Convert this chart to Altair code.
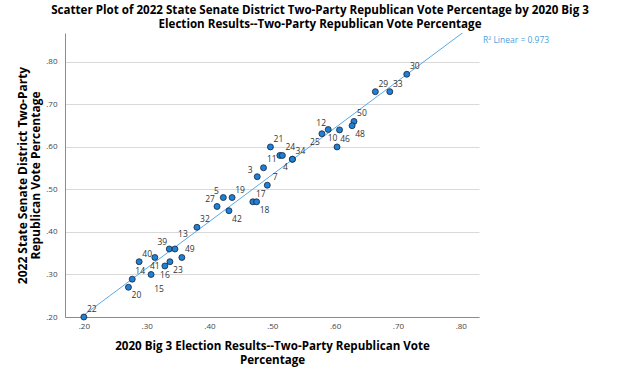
import altair as alt
import pandas as pd

# ---- data ----
district = ["22", "20", "14", "40", "41", "15", "16", "23", "39", "13", "49", "32",
            "27", "5", "19", "42", "17", "18", "7", "3", "", "21", "11", "24", "34",
            "4", "25", "12", "10", "46", "30", "29", "33", "50", "48"]
gop2020 = [0.200, 0.271, 0.277, 0.288, 0.313, 0.307, 0.329, 0.337, 0.336, 0.345, 0.356, 0.380,
           0.412, 0.422, 0.436, 0.431, 0.469, 0.475, 0.492, 0.476, 0.486, 0.497, 0.512, 0.516, 0.532,
           0.532, 0.579, 0.589, 0.607, 0.603, 0.714, 0.664, 0.687, 0.630, 0.627]
gop2022 = [0.200, 0.270, 0.289, 0.330, 0.340, 0.300, 0.320, 0.330, 0.360, 0.360, 0.340, 0.411,
           0.460, 0.481, 0.481, 0.450, 0.471, 0.471, 0.510, 0.530, 0.551, 0.600, 0.580, 0.580, 0.571,
           0.571, 0.631, 0.641, 0.640, 0.600, 0.771, 0.730, 0.730, 0.660, 0.650]
# where each point's label sits relative to the point
place = ["ur", "lr", "ur", "ur", "b", "lb", "b", "lr", "ul", "ut", "ur", "ur",
         "ul", "ul", "ur", "lr", "ur", "lr", "ur", "ul", "ur", "ur", "l", "ur", "ur",
         "ll", "ll", "ul", "ll", "ur", "ur", "ur", "ur", "ur", "lr"]
tick_values = [0.2, 0.3, 0.4, 0.5, 0.6, 0.7, 0.8]
r2_text = "R\u00b2 Linear = 0.973"

title_lines = ["Scatter Plot of 2022 State Senate District Two-Party Republican Vote Percentage by 2020 Big 3",
               "Election Results--Two-Party Republican Vote Percentage"]
x_title = ["2020 Big 3 Election Results--Two-Party Republican Vote", "Percentage"]
y_title = ["2022 State Senate District Two-Party", "Republican Vote Percentage"]

df = pd.DataFrame({"district": district, "x": gop2020, "y": gop2022, "place": place})

FONT = "Open Sans"
label_expr = "substring(format(datum.value, '.2f'), 1)"

xs = alt.Scale(domain=[0.17, 0.829], nice=False, zero=False)
ys = alt.Scale(domain=[0.20, 0.868], nice=False, zero=False)

x_enc = alt.X("x:Q", scale=xs, axis=alt.Axis(
    values=tick_values, labelExpr=label_expr, grid=False, ticks=False,
    domainColor="#8c8c8c", labelFontSize=8, labelColor="#444444", labelPadding=5,
    labelFont=FONT, title=x_title, titleFont=FONT, titleFontSize=11.6,
    titleFontWeight="bold", titleColor="black", titleLineHeight=14, titlePadding=10))
y_enc = alt.Y("y:Q", scale=ys, axis=alt.Axis(
    values=tick_values, labelExpr=label_expr, grid=True, gridColor="#d9d9d9",
    gridWidth=1.2, ticks=False, domainColor="#8c8c8c", labelFontSize=8,
    labelColor="#444444", labelPadding=8, labelFont=FONT, title=y_title,
    titleFont=FONT, titleFontSize=12, titleFontWeight="bold", titleColor="black",
    titleLineHeight=13, titlePadding=3))

base = alt.Chart(df)

fit = base.transform_regression("x", "y", extent=[0.17, 0.829]).mark_line(
    clip=True, color="#5aa9e6", strokeWidth=1).encode(x=x_enc, y=y_enc)

points = base.mark_circle(size=36, opacity=1, fill="#1f80d6", stroke="#14243f",
                          strokeWidth=0.8).encode(x=x_enc, y=y_enc)

offsets = {"ur": (8, -8), "lr": (8, 8), "ul": (-7, -7), "ll": (-7, 8),
           "b": (0, 9), "l": (-8, 4), "lb": (8, 15), "ut": (8, -15)}
labels = []
for p, (dx, dy) in offsets.items():
    labels.append(
        base.transform_filter(alt.datum.place == p).mark_text(
            dx=dx, dy=dy, fontSize=8.5, font=FONT, color="#333333",
            align="center", baseline="middle").encode(x=x_enc, y=y_enc, text="district:N"))

r2 = alt.Chart(pd.DataFrame({"t": [r2_text]})).mark_text(
    align="left", baseline="middle", fontSize=8.5, font=FONT, color="#4a9fe0"
).encode(x=alt.value(418), y=alt.value(7), text="t:N")

chart = alt.layer(fit, points, *labels, r2).properties(
    width=414, height=284,
    title=alt.TitleParams(text=title_lines, anchor="middle", dx=48, fontSize=11.6,
                          font=FONT, fontWeight="bold", color="black", offset=2,
                          lineHeight=14),
    padding={"left": 65, "top": 33, "right": 161, "bottom": 59},
    autosize="none",
).configure_view(stroke=None)

chart.save("out.html", embed_options={"renderer": "svg", "actions": False})
